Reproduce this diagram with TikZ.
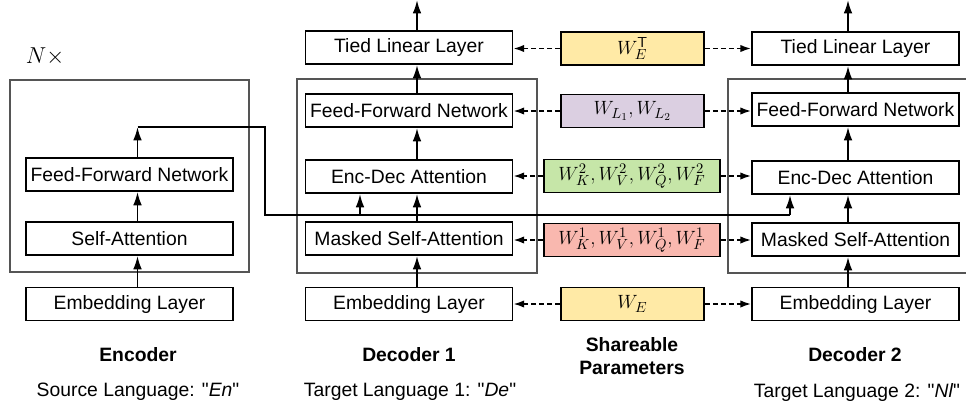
\documentclass[tikz,border=0pt]{standalone}
\usepackage{fontspec}
\setmainfont{Liberation Sans}
\usetikzlibrary{arrows.meta}
\newdimen\pxu \pxu=0.75pt
\definecolor{pyellow}{HTML}{FFEAA6}
\definecolor{plav}{HTML}{DBCFE1}
\definecolor{pgreen}{HTML}{C6E6A8}
\definecolor{ppink}{HTML}{F9B8AF}
\definecolor{framegray}{HTML}{555555}
\tikzset{
  layer/.style={draw, line width=1.4pt, fill=white, minimum width=207\pxu, minimum height=33\pxu, inner sep=0pt, font=\fontsize{14.5pt}{17pt}\selectfont},
  param/.style={draw, line width=1.4pt, minimum width=143\pxu, minimum height=33\pxu, inner sep=0pt, font=\fontsize{15.5pt}{18pt}\selectfont},
  wparam/.style={param, minimum width=176\pxu},
  stack/.style={draw=framegray, line width=0.8pt},
  flow/.style={line width=1.4pt, -{Latex[length=10pt,width=6.5pt]}},
  link/.style={line width=1.4pt},
  share/.style={line width=1.2pt, dash pattern=on 3.75pt off 2.25pt, -{Latex[length=8pt,width=5.5pt]}},
  title/.style={font=\fontsize{14.5pt}{17pt}\selectfont\bfseries, align=center},
  sub/.style={font=\fontsize{14.5pt}{17pt}\selectfont},
}
\begin{document}
\begin{tikzpicture}[x=0.75pt, y=-0.75pt]
\useasboundingbox (0,0) rectangle (966,411);
% outer stacks
\draw[stack] (10,80) rectangle (249,272);
\draw[stack] (297,79) rectangle (537,273);
\draw[stack] (728,79) rectangle (975,273);
\node[font=\fontsize{18pt}{20pt}\selectfont] (nx) at (45,57) {$N\times$};
% column coordinates
\coordinate (c0) at (137.5,0);
\coordinate (c1) at (417,0);
\coordinate (c2) at (848,0);
\coordinate (b1) at (360,0);
\coordinate (b2) at (790,0);
% encoder
\node[layer] (eemb) at (129.5,304) {Embedding Layer};
\node[layer] (esa) at (129.5,238.5) {Self-Attention};
\node[layer] (effn) at (129.5,174.5) {Feed-Forward Network};
% decoder 1
\node[layer] (d1emb) at (409,304) {Embedding Layer};
\node[layer] (d1msa) at (409,238.5) {Masked Self-Attention};
\node[layer] (d1eda) at (409,176.5) {Enc-Dec Attention};
\node[layer] (d1ffn) at (409,110.5) {Feed-Forward Network};
\node[layer] (d1tied) at (409,47.5) {Tied Linear Layer};
% decoder 2
\node[layer] (d2emb) at (855.5,304) {Embedding Layer};
\node[layer] (d2msa) at (855.5,239.5) {Masked Self-Attention};
\node[layer] (d2eda) at (855.5,177.5) {Enc-Dec Attention};
\node[layer] (d2ffn) at (855.5,109.5) {Feed-Forward Network};
\node[layer] (d2tied) at (855.5,48.5) {Tied Linear Layer};
% params
\node[param, fill=pyellow] (pwet) at (632.5,48.5) {$W_E^{\mathsf{T}}$};
\node[param, fill=plav] (pwl) at (632.5,111) {$W_{L_1},W_{L_2}$};
\node[wparam, fill=pgreen] (pw2) at (632,176) {$W_K^2,W_V^2,W_Q^2,W_F^2$};
\node[wparam, fill=ppink] (pw1) at (632,240) {$W_K^1,W_V^1,W_Q^1,W_F^1$};
\node[param, fill=pyellow] (pwe) at (632.5,304) {$W_E$};
% output tips
\coordinate (o1) at (417,0);
\coordinate (o2) at (848,0);
\coordinate (encout) at (137.5,127);
\coordinate (k1) at (265,127);
\coordinate (k2) at (265,215);
\coordinate (k3) at (790,215);
\coordinate (k4) at (360,215);
% encoder flow
\draw[flow] (eemb.north -| c0) -- (esa.south -| c0);
\draw[flow] (esa.north -| c0) -- (effn.south -| c0);
\draw[flow] (effn.north -| c0) -- (encout);
\draw[link] (encout) -- (k1) -- (k2) -- (k3);
\draw[flow] (k3) -- (d2eda.south -| b2);
\draw[flow] (k4) -- (d1eda.south -| b1);
% decoder 1 flow
\draw[flow] (d1emb.north -| c1) -- (d1msa.south -| c1);
\draw[flow] (d1msa.north -| c1) -- (d1eda.south -| c1);
\draw[flow] (d1eda.north -| c1) -- (d1ffn.south -| c1);
\draw[flow] (d1ffn.north -| c1) -- (d1tied.south -| c1);
\draw[flow] (d1tied.north -| c1) -- (o1);
% decoder 2 flow
\draw[flow] (d2emb.north -| c2) -- (d2msa.south -| c2);
\draw[flow] (d2msa.north -| c2) -- (d2eda.south -| c2);
\draw[flow] (d2eda.north -| c2) -- (d2ffn.south -| c2);
\draw[flow] (d2ffn.north -| c2) -- (d2tied.south -| c2);
\draw[flow] (d2tied.north -| c2) -- (o2);
% sharing arrows
\foreach \p/\a/\b in {pwet/d1tied/d2tied, pwl/d1ffn/d2ffn, pw2/d1eda/d2eda, pw1/d1msa/d2msa, pwe/d1emb/d2emb}{
  \draw[share] (\p.west) -- (\p.west -| \a.east);
  \draw[share] (\p.east) -- (\p.east -| \b.west);
}
% captions
\node[title] (tenc) at (138,355) {Encoder};
\node[title] (tdec1) at (409,355) {Decoder 1};
\node[title] (tshare) at (632,356) {Shareable\\Parameters};
\node[title] (tdec2) at (855,355) {Decoder 2};
\node[sub] (senc) at (138,392) {Source Language: \textquotedbl\textit{En}\textquotedbl};
\node[sub] (sdec1) at (410,392) {Target Language 1: \textquotedbl\textit{De}\textquotedbl};
\node[sub] (sdec2) at (857,392) {Target Language 2: \textquotedbl\textit{Nl}\textquotedbl};
\end{tikzpicture}
\end{document}
